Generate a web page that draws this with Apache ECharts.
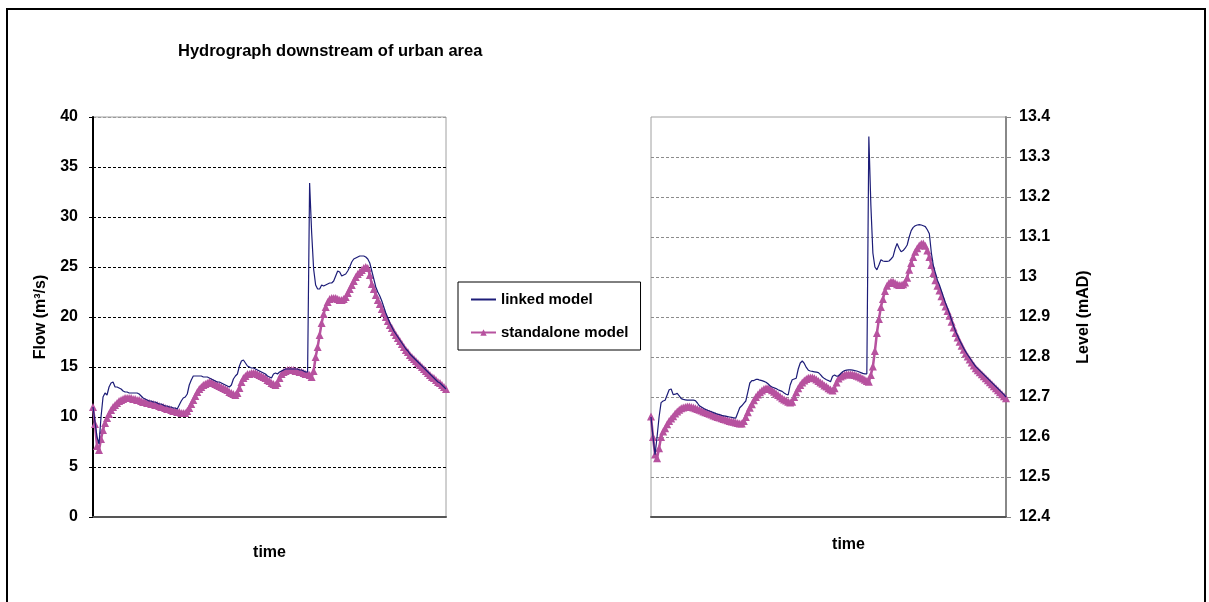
<!DOCTYPE html>
<html>
<head>
<meta charset="utf-8">
<title>Hydrograph downstream of urban area</title>
<script src="https://cdn.jsdelivr.net/npm/echarts@6/dist/echarts.min.js"></script>
<style>
  html, body { margin: 0; padding: 0; background: #fff; }
  #chart { width: 1209px; height: 602px; }
</style>
</head>
<body>
<div id="chart"></div>
<script>
// Time steps (shared by both panels)
const timeSteps = Array.from({ length: 177 }, (_, i) => i);

// Flow (m3/s) downstream of the urban area
const linkedFlow = [
  11.0, 9.5, 8.0, 7.3, 10.0, 12.0, 12.4, 12.2, 13.0, 13.4,
  13.5, 13.0, 13.0, 12.9, 12.8, 12.6, 12.5, 12.5, 12.4, 12.4,
  12.4, 12.4, 12.4, 12.3, 12.1, 11.9, 11.8, 11.7, 11.6, 11.6,
  11.5, 11.5, 11.4, 11.3, 11.3, 11.2, 11.1, 11.1, 11.0, 11.0,
  10.9, 10.9, 10.8, 11.2, 11.6, 11.9, 12.0, 12.3, 13.2, 13.7,
  14.1, 14.1, 14.1, 14.1, 14.1, 14.0, 14.0, 14.0, 13.9, 13.8,
  13.7, 13.6, 13.5, 13.5, 13.4, 13.3, 13.2, 13.1, 13.0, 13.2,
  13.8, 14.1, 14.3, 15.1, 15.6, 15.7, 15.4, 15.1, 15.0, 14.9,
  14.9, 14.8, 14.7, 14.6, 14.5, 14.4, 14.3, 14.1, 14.0, 13.9,
  14.3, 14.4, 14.3, 14.5, 14.6, 14.7, 14.8, 14.8, 14.8, 14.8,
  14.8, 14.8, 14.8, 14.7, 14.7, 14.6, 14.5, 14.5, 33.4, 28.5,
  24.8, 23.2, 22.8, 22.8, 23.2, 23.1, 23.2, 23.3, 23.4, 23.4,
  23.6, 24.1, 24.6, 24.5, 24.1, 24.2, 24.3, 24.6, 25.0, 25.5,
  25.8, 25.9, 26.0, 26.1, 26.1, 26.1, 26.0, 25.8, 25.4, 24.6,
  23.8, 23.0, 22.5, 22.1, 21.6, 21.0, 20.4, 19.9, 19.4, 19.0,
  18.6, 18.3, 18.0, 17.7, 17.4, 17.1, 16.8, 16.6, 16.3, 16.1,
  15.9, 15.7, 15.5, 15.3, 15.1, 14.9, 14.7, 14.5, 14.3, 14.1,
  13.9, 13.7, 13.5, 13.4, 13.2, 13.0, 12.8
];
const standaloneFlow = [
  11.0, 9.3, 7.1, 6.7, 7.8, 8.7, 9.4, 9.9, 10.3, 10.7,
  11.0, 11.2, 11.4, 11.6, 11.7, 11.8, 11.9, 11.9, 11.9, 11.9,
  11.8, 11.8, 11.7, 11.7, 11.6, 11.5, 11.5, 11.4, 11.4, 11.3,
  11.3, 11.2, 11.2, 11.1, 11.0, 11.0, 10.9, 10.8, 10.8, 10.7,
  10.6, 10.6, 10.5, 10.5, 10.4, 10.4, 10.4, 10.6, 10.9, 11.3,
  11.7, 12.1, 12.5, 12.8, 13.0, 13.2, 13.3, 13.4, 13.5, 13.5,
  13.4, 13.3, 13.2, 13.1, 13.0, 12.9, 12.8, 12.7, 12.5, 12.4,
  12.3, 12.2, 12.4, 12.9, 13.5, 13.9, 14.1, 14.3, 14.3, 14.4,
  14.4, 14.4, 14.3, 14.2, 14.1, 14.0, 13.9, 13.7, 13.6, 13.4,
  13.3, 13.2, 13.4, 13.9, 14.3, 14.5, 14.6, 14.7, 14.7, 14.7,
  14.7, 14.6, 14.6, 14.5, 14.5, 14.4, 14.3, 14.3, 14.2, 14.0,
  14.6, 16.0, 17.0, 18.2, 19.4, 20.3, 21.0, 21.5, 21.8, 21.9,
  21.9, 21.9, 21.8, 21.7, 21.7, 21.8, 22.0, 22.4, 22.8, 23.2,
  23.6, 24.0, 24.3, 24.5, 24.7, 24.9, 25.0, 24.9, 24.2, 23.3,
  22.8, 22.2, 21.7, 21.3, 20.8, 20.4, 20.0, 19.6, 19.2, 18.9,
  18.5, 18.2, 17.9, 17.6, 17.3, 17.0, 16.7, 16.5, 16.2, 16.0,
  15.8, 15.6, 15.4, 15.2, 15.0, 14.8, 14.6, 14.4, 14.2, 14.0,
  13.9, 13.7, 13.5, 13.4, 13.2, 13.0, 12.8
];

// Water level (mAD) at the same location
const linkedLevel = [
  12.650, 12.600, 12.556, 12.600, 12.650, 12.686, 12.690, 12.692, 12.705, 12.718,
  12.720, 12.706, 12.707, 12.709, 12.703, 12.696, 12.694, 12.693, 12.692, 12.692,
  12.692, 12.692, 12.691, 12.685, 12.678, 12.675, 12.672, 12.669, 12.667, 12.665,
  12.663, 12.661, 12.659, 12.657, 12.656, 12.654, 12.653, 12.652, 12.651, 12.650,
  12.649, 12.648, 12.647, 12.660, 12.673, 12.678, 12.684, 12.690, 12.712, 12.735,
  12.741, 12.741, 12.744, 12.744, 12.742, 12.741, 12.739, 12.737, 12.733, 12.728,
  12.725, 12.723, 12.721, 12.718, 12.716, 12.714, 12.710, 12.707, 12.705, 12.730,
  12.743, 12.745, 12.747, 12.770, 12.785, 12.790, 12.784, 12.774, 12.767, 12.765,
  12.764, 12.763, 12.762, 12.761, 12.756, 12.750, 12.746, 12.743, 12.741, 12.738,
  12.752, 12.755, 12.752, 12.753, 12.758, 12.763, 12.766, 12.767, 12.768, 12.768,
  12.767, 12.766, 12.765, 12.763, 12.761, 12.759, 12.758, 12.758, 13.351, 13.180,
  13.060, 13.025, 13.018, 13.030, 13.043, 13.040, 13.039, 13.039, 13.040, 13.045,
  13.051, 13.070, 13.084, 13.072, 13.063, 13.066, 13.072, 13.080, 13.100, 13.116,
  13.124, 13.128, 13.130, 13.131, 13.130, 13.128, 13.126, 13.118, 13.108, 13.060,
  13.028, 13.010, 12.992, 12.980, 12.965, 12.950, 12.935, 12.922, 12.908, 12.893,
  12.878, 12.864, 12.853, 12.842, 12.832, 12.822, 12.813, 12.805, 12.798, 12.790,
  12.783, 12.776, 12.771, 12.766, 12.761, 12.756, 12.751, 12.746, 12.741, 12.736,
  12.731, 12.726, 12.721, 12.716, 12.711, 12.706, 12.700
];
const standaloneLevel = [
  12.651, 12.600, 12.556, 12.547, 12.572, 12.600, 12.614, 12.622, 12.632, 12.640,
  12.646, 12.652, 12.659, 12.664, 12.668, 12.672, 12.674, 12.675, 12.676, 12.676,
  12.675, 12.674, 12.672, 12.670, 12.668, 12.666, 12.664, 12.662, 12.660, 12.658,
  12.656, 12.654, 12.652, 12.650, 12.649, 12.647, 12.645, 12.644, 12.642, 12.640,
  12.639, 12.638, 12.636, 12.635, 12.634, 12.634, 12.640, 12.650, 12.662, 12.673,
  12.682, 12.692, 12.700, 12.706, 12.712, 12.716, 12.720, 12.722, 12.722, 12.720,
  12.717, 12.713, 12.709, 12.705, 12.701, 12.697, 12.694, 12.691, 12.688, 12.686,
  12.688, 12.700, 12.712, 12.722, 12.730, 12.736, 12.741, 12.745, 12.748, 12.749,
  12.749, 12.747, 12.744, 12.740, 12.736, 12.733, 12.729, 12.726, 12.722, 12.719,
  12.716, 12.722, 12.736, 12.746, 12.751, 12.754, 12.756, 12.757, 12.757, 12.757,
  12.756, 12.755, 12.753, 12.751, 12.749, 12.746, 12.743, 12.740, 12.738, 12.755,
  12.776, 12.815, 12.860, 12.895, 12.925, 12.945, 12.965, 12.978, 12.985, 12.988,
  12.988, 12.985, 12.982, 12.980, 12.980, 12.982, 12.986, 12.998, 13.018, 13.035,
  13.050, 13.063, 13.072, 13.079, 13.083, 13.084, 13.078, 13.066, 13.050, 13.030,
  13.010, 12.992, 12.978, 12.966, 12.952, 12.938, 12.926, 12.915, 12.903, 12.888,
  12.874, 12.860, 12.849, 12.838, 12.828, 12.818, 12.809, 12.801, 12.794, 12.786,
  12.779, 12.772, 12.767, 12.762, 12.757, 12.752, 12.747, 12.742, 12.737, 12.732,
  12.727, 12.722, 12.717, 12.712, 12.707, 12.702, 12.697
];

const seriesNames = ['linked model', 'standalone model'];

const FONT = "'Liberation Sans Narrow', 'Arial Narrow', 'Liberation Sans', Arial, sans-serif";
const LINKED_COLOR = '#1d1d78';
const STANDALONE_COLOR = '#b7529f';

const boldText = (size) => ({ fontFamily: FONT, fontWeight: 'bold', fontSize: size, color: '#000' });

function timeAxis(gridIndex, extra) {
  return Object.assign({
    type: 'category',
    gridIndex: gridIndex,
    data: timeSteps,
    boundaryGap: false,
    axisLabel: { show: false },
    axisTick: { show: false },
    splitLine: { show: false },
    axisLine: { lineStyle: { color: '#555', width: 2 } },
    name: 'time',
    nameLocation: 'middle',
    nameTextStyle: boldText(16)
  }, extra);
}

function linkedSeries(xi, data) {
  return {
    name: seriesNames[0], type: 'line', xAxisIndex: xi, yAxisIndex: xi,
    data: data, showSymbol: false, symbol: 'none',
    lineStyle: { color: LINKED_COLOR, width: 1.2 },
    itemStyle: { color: LINKED_COLOR }, z: 3
  };
}
function standaloneSeries(xi, data) {
  return {
    name: seriesNames[1], type: 'line', xAxisIndex: xi, yAxisIndex: xi,
    data: data, symbol: 'triangle', symbolSize: 8, showAllSymbol: true,
    lineStyle: { color: STANDALONE_COLOR, width: 2.5 },
    itemStyle: { color: STANDALONE_COLOR }, z: 2
  };
}

const flowGridColors = ['rgba(0,0,0,0)', '#000', '#000', '#000', '#000', '#000', '#000', '#000', '#9a9a9a'];
const levelGridColors = ['rgba(0,0,0,0)', '#8c8c8c', '#8c8c8c', '#8c8c8c', '#8c8c8c', '#8c8c8c',
  '#8c8c8c', '#8c8c8c', '#8c8c8c', '#8c8c8c', 'rgba(0,0,0,0)'];

const option = {
  animation: false,
  backgroundColor: '#fff',
  title: {
    text: 'Hydrograph downstream of urban area',
    left: 178, top: 43,
    padding: 0,
    textStyle: { fontFamily: "'Liberation Sans', Arial, sans-serif", fontWeight: 'bold', fontSize: 16.5, color: '#000' }
  },
  legend: {
    data: [
      { name: seriesNames[0], itemStyle: { opacity: 0 } },
      { name: seriesNames[1] }
    ],
    orient: 'vertical',
    left: 458, top: 282,
    padding: [10, 12, 10, 12],
    itemGap: 18,
    itemWidth: 25, itemHeight: 8,
    borderColor: '#000', borderWidth: 1,
    selectedMode: false,
    textStyle: boldText(15)
  },
  graphic: [{
    type: 'rect', silent: true, z: -10,
    shape: { x: 7, y: 9, width: 1198, height: 640 },
    style: { fill: 'none', stroke: '#000', lineWidth: 2 }
  }],
  grid: [
    { left: 93, top: 117, width: 353, height: 400, show: true, borderColor: '#a0a0a0', borderWidth: 1 },
    { left: 651, top: 117, width: 355, height: 400, show: true, borderColor: '#a0a0a0', borderWidth: 1 }
  ],
  xAxis: [
    timeAxis(0, { nameGap: 28 }),
    timeAxis(1, { nameGap: 20, nameTextStyle: Object.assign(boldText(16), { padding: [0, 0, 0, 40] }) })
  ],
  yAxis: [
    {
      type: 'value', gridIndex: 0, min: 0, max: 40, interval: 5,
      name: 'Flow (m\u00b3/s)', nameLocation: 'middle', nameGap: 44,
      nameTextStyle: boldText(16),
      axisLine: { show: true, lineStyle: { color: '#000', width: 2 } },
      axisTick: { show: true, length: 4, lineStyle: { color: '#000' } },
      axisLabel: Object.assign(boldText(16), { margin: 15 }),
      splitLine: { show: true, lineStyle: { color: flowGridColors, type: [3, 2], width: 1 } }
    },
    {
      type: 'value', gridIndex: 1, position: 'right', min: 12.4, max: 13.4, interval: 0.1,
      name: 'Level (mAD)', nameLocation: 'middle', nameGap: 70,
      nameTextStyle: boldText(16),
      axisLine: { show: true, lineStyle: { color: '#888', width: 2 } },
      axisTick: { show: true, length: 5, lineStyle: { color: '#888' } },
      axisLabel: Object.assign(boldText(16), { margin: 13, formatter: (v) => String(+v.toFixed(1)) }),
      splitLine: { show: true, lineStyle: { color: levelGridColors, type: [3, 2], width: 1 } }
    }
  ],
  series: [
    standaloneSeries(0, standaloneFlow),
    linkedSeries(0, linkedFlow),
    standaloneSeries(1, standaloneLevel),
    linkedSeries(1, linkedLevel)
  ]
};

const chart = echarts.init(document.getElementById('chart'), null, { renderer: 'canvas' });
chart.setOption(option);
</script>
</body>
</html>
